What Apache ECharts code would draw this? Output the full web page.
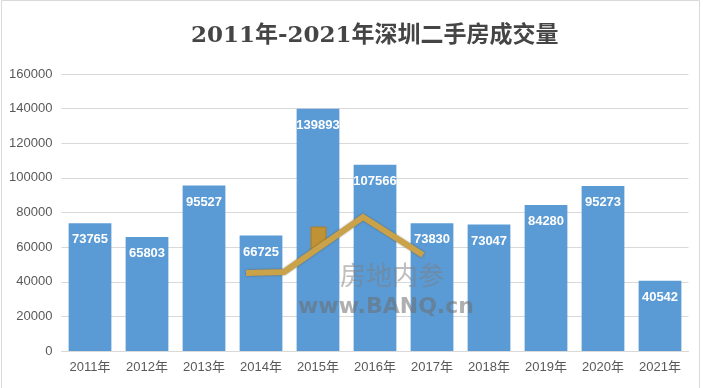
<!DOCTYPE html>
<html><head><meta charset="utf-8">
<script src="https://cdn.jsdelivr.net/npm/echarts@6/dist/echarts.min.js"></script>
<style>html,body{margin:0;padding:0;background:#fff}#c{width:703px;height:388px}</style>
</head><body><div id="c"></div>
<script>
const categories = ['2011年','2012年','2013年','2014年','2015年','2016年','2017年','2018年','2019年','2020年','2021年'];
const volumes = [73765, 65803, 95527, 66725, 139893, 107566, 73830, 73047, 84280, 95273, 40542];
const yTicks = {min: 0, max: 160000, interval: 20000};

const chart = echarts.init(document.getElementById('c'), null, {renderer: 'canvas'});
chart.setOption({
  backgroundColor: '#ffffff',
  animation: false,
  title: {
    text: '2011年-2021年深圳二手房成交量',
    left: 186, top: 20,
    textStyle: {fontFamily: '"DejaVu Serif", "Noto Sans CJK SC", serif', fontWeight: 'bold', fontSize: 23, color: '#454545'}
  },
  grid: {left: 61.5, right: 14.5, top: 74, bottom: 37, containLabel: false},
  xAxis: {
    type: 'category', data: categories,
    axisLine: {lineStyle: {color: '#d9d9d9'}},
    axisTick: {show: false},
    axisLabel: {color: '#595959', fontSize: 13, margin: 10, fontFamily: '"Liberation Sans", "Noto Sans CJK SC", sans-serif'}
  },
  yAxis: {
    type: 'value', min: yTicks.min, max: yTicks.max, interval: yTicks.interval,
    axisLine: {show: false}, axisTick: {show: false},
    splitLine: {lineStyle: {color: '#d9d9d9'}},
    axisLabel: {color: '#595959', fontSize: 13, margin: 9, formatter: v => String(v), fontFamily: '"Liberation Sans", sans-serif'}
  },
  series: [{
    type: 'bar', data: volumes, barCategoryGap: '25%',
    itemStyle: {color: '#5b9bd5'},
    label: {show: true, position: 'insideTop', distance: 10, color: '#ffffff', fontWeight: 'bold', fontSize: 13, fontFamily: '"Liberation Sans", sans-serif'}
  }],
  graphic: [
    {type: 'rect', shape: {x: 1.5, y: 0.5, width: 698, height: 390}, style: {fill: 'none', stroke: '#d9d9d9', lineWidth: 1}, z: 100},
    {type: 'polygon', shape: {points: [[311,254],[311,227],[326,227],[326,244]]},
      style: {fill: '#c09236', stroke: '#a67c2a', lineWidth: 1}, z: 50},
    {type: 'polyline', shape: {points: [[246,273],[284,272],[363,217],[423,255]]},
      style: {fill: 'none', stroke: '#c9a24a', lineWidth: 6, lineJoin: 'miter', shadowBlur: 2, shadowColor: 'rgba(80,60,20,0.6)'}, z: 51},
    {type: 'text', left: 340, top: 262, style: {text: '房地内参', fontSize: 26, fill: 'rgba(125,125,125,0.5)', fontFamily: '"Noto Sans CJK SC", sans-serif'}, z: 50},
    {type: 'text', left: 298, top: 296, style: {text: 'www.BANQ.cn', fontSize: 22, fontWeight: 'bold', fill: 'rgba(110,110,110,0.55)', fontFamily: '"DejaVu Sans", sans-serif'}, z: 50}
  ]
});
</script></body></html>
